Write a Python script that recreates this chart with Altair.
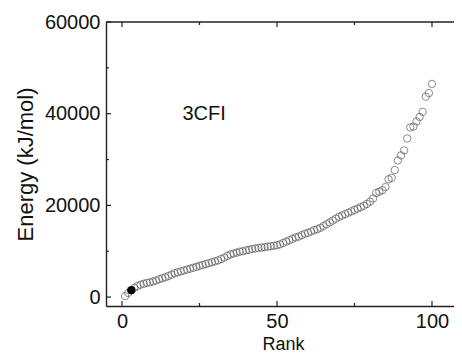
import altair as alt
import pandas as pd

ranks = list(range(1, 101))
energy = [200, 900, 1500, 2000, 2400, 2700, 2900, 3100, 3200, 3400,
          3600, 3900, 4100, 4300, 4600, 4900, 5200, 5400, 5600, 5800,
          6000, 6200, 6400, 6600, 6800, 7000, 7200, 7400, 7600, 7800,
          8000, 8300, 8600, 9000, 9300, 9500, 9700, 9900, 10000, 10200,
          10300, 10500, 10600, 10700, 10800, 10900, 11000, 11100, 11200, 11300,
          11500, 11800, 12100, 12400, 12700, 13000, 13200, 13500, 13800, 14000,
          14300, 14600, 14800, 15100, 15500, 15900, 16300, 16700, 17100, 17500,
          17800, 18100, 18400, 18700, 19000, 19300, 19600, 19900, 20300, 20800,
          21500, 22700, 23000, 23300, 24000, 25700, 26000, 27700, 29800, 30900,
          32000, 34600, 37000, 37200, 38300, 39300, 40400, 43700, 44500, 46500]
highlight_rank = [3]
label_text = ["3CFI"]
label_x = [26.5]
label_y = [40000]

x_major = [0, 50, 100]
x_minor = [25, 75]
y_major = [0, 20000, 40000, 60000]
y_minor = [10000, 30000, 50000]

W, H = 348, 284
FONT = "Arial"

df = pd.DataFrame({"rank": ranks, "energy": energy})
df["hl"] = df["rank"].isin(highlight_rank)

xs = alt.Scale(domain=[-5.16, 107.1], nice=False, zero=False)
ys = alt.Scale(domain=[-1950, 60000], nice=False, zero=False)

base = alt.Chart(df)

open_pts = base.transform_filter("!datum.hl").mark_point(
    shape="circle", filled=False, size=55, stroke="#4a4a4a", strokeWidth=0.9
).encode(
    x=alt.X("rank:Q", scale=xs, axis=alt.Axis(
        values=x_major, format="d", title="Rank", tickSize=0, labelPadding=5,
        labelFontSize=20, labelFont=FONT, labelColor="#111",
        titleFontSize=18, titleFont=FONT, titleFontWeight="normal", titleColor="#111",
        titleX=177, titleY=38, titleBaseline="middle",
        domainColor="#222", domainWidth=1.4, grid=False)),
    y=alt.Y("energy:Q", scale=ys, axis=alt.Axis(
        values=y_major, format="d", title="Energy  (kJ/mol)", tickSize=0, labelPadding=6,
        labelFontSize=20, labelFont=FONT, labelColor="#111",
        titleFontSize=22, titleFont=FONT, titleFontWeight="normal", titleColor="#111",
        titleX=-81, titleY=142, titleBaseline="middle", titleAngle=-90,
        domainColor="#222", domainWidth=1.4, grid=False)),
)

filled_pts = base.transform_filter("datum.hl").mark_point(
    shape="circle", filled=True, size=70, color="black", opacity=1
).encode(x=alt.X("rank:Q", scale=xs), y=alt.Y("energy:Q", scale=ys))

lab = alt.Chart(pd.DataFrame({"t": label_text, "x": label_x, "y": label_y})).mark_text(
    font=FONT, fontSize=20, color="#111", align="center", baseline="middle"
).encode(x=alt.X("x:Q", scale=xs), y=alt.Y("y:Q", scale=ys), text="t:N")

top_line = alt.Chart(pd.DataFrame({"a": [0]})).mark_rule(color="#222", strokeWidth=1.4).encode(
    x=alt.value(0), x2=alt.value(W), y=alt.value(0))

def xticks(vals, length, top):
    d = pd.DataFrame({"v": vals})
    if top:
        yy, yy2 = alt.value(0), alt.value(length)
    else:
        yy, yy2 = alt.value(H), alt.value(H - length)
    return alt.Chart(d).mark_rule(color="#222", strokeWidth=1.2).encode(
        x=alt.X("v:Q", scale=xs), y=yy, y2=yy2)

def yticks(vals, length):
    d = pd.DataFrame({"v": vals})
    return alt.Chart(d).mark_rule(color="#222", strokeWidth=1.2).encode(
        y=alt.Y("v:Q", scale=ys), x=alt.value(0), x2=alt.value(length))

chart = alt.layer(
    top_line,
    xticks(x_major, 5, False), xticks(x_minor, 3, False),
    xticks(x_major, 5, True), xticks(x_minor, 3, True),
    yticks(y_major, 5), yticks(y_minor, 3),
    lab, open_pts, filled_pts,
).properties(
    width=W, height=H,
    autosize=alt.AutoSizeParams(type="none"),
    padding={"left": 98, "top": 14, "right": 0, "bottom": 48},
    background="white",
).configure_view(stroke=None)

chart.save("out.html", embed_options={"renderer": "svg", "actions": False})
